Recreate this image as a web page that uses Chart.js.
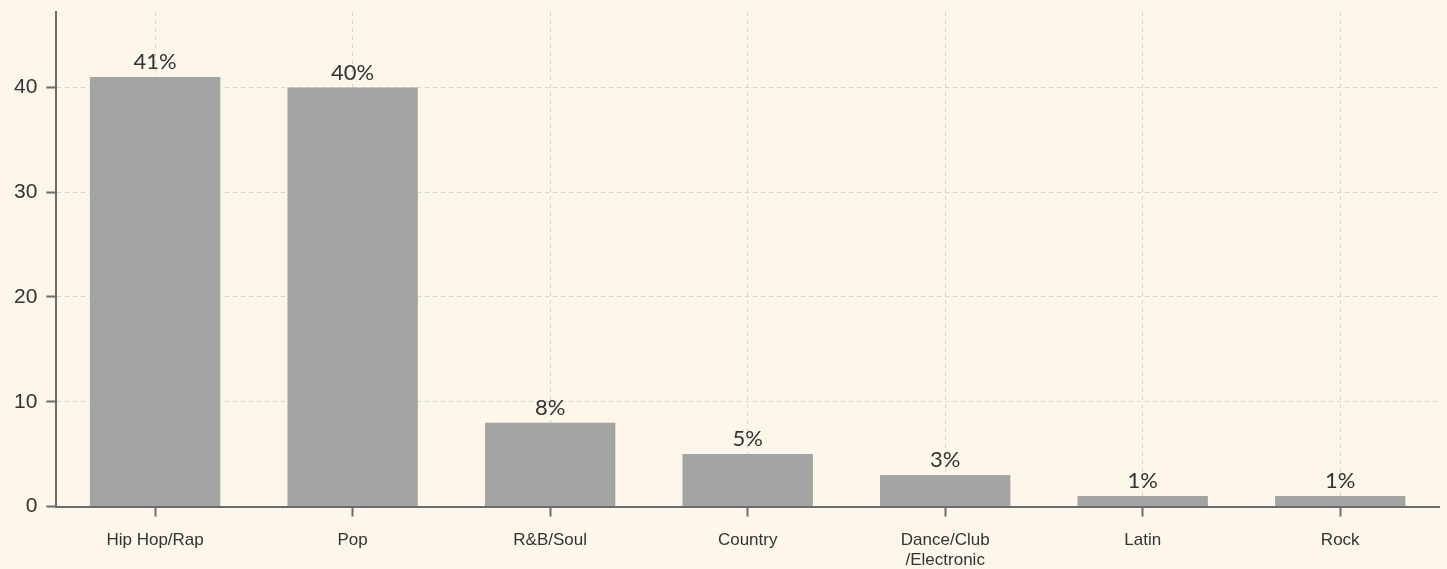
<!DOCTYPE html>
<html>
<head>
<meta charset="utf-8">
<script src="https://cdn.jsdelivr.net/npm/chart.js@4"></script>
<style>
  html, body { margin: 0; padding: 0; background: #fdf6eb; }
  #wrap { width: 1447px; height: 569px; }
</style>
</head>
<body>
<div id="wrap"><canvas id="genreChart"></canvas></div>
<script>
// genre share of top songs (percent)
const genres = ['Hip Hop/Rap', 'Pop', 'R&B/Soul', 'Country', ['Dance/Club', '/Electronic'], 'Latin', 'Rock'];
const shares = [41, 40, 8, 5, 3, 1, 1];
const yTicks = [0, 10, 20, 30, 40];

// draws "41%" etc. above each bar
const valueLabels = {
  id: 'valueLabels',
  afterDatasetsDraw(chart) {
    const ctx = chart.ctx;
    const meta = chart.getDatasetMeta(0);
    ctx.save();
    ctx.font = '22px Lato';
    ctx.fillStyle = '#333333';
    ctx.textAlign = 'center';
    ctx.textBaseline = 'bottom';
    meta.data.forEach((bar, i) => {
      ctx.fillText(shares[i] + '%', bar.x, bar.y - 4);
    });
    ctx.restore();
  }
};

new Chart(document.getElementById('genreChart').getContext('2d'), {
  type: 'bar',
  data: {
    labels: genres,
    datasets: [
      {
        data: shares,
        backgroundColor: '#a4a4a4',
        borderWidth: 0,
        barPercentage: 0.66,
        categoryPercentage: 1,
      },
    ],
  },
  options: {
    responsive: true,
    maintainAspectRatio: false,
    animation: false,
    layout: {
      padding: { top: 12, right: 8, left: 5, bottom: 0 },
    },
    plugins: {
      legend: { display: false },
      tooltip: { enabled: false },
    },
    scales: {
      x: {
        offset: true,
        afterFit(axis) {
          axis.height = 62.5;
          axis.paddingLeft = 0;
          axis.paddingRight = 0;
        },
        grid: {
          offset: false,
          color: '#d6d4cf',
          tickColor: '#6b6b6b',
          tickLength: 10,
          tickWidth: 2,
        },
        border: { color: '#6b6b6b', width: 2, dash: [4, 4] },
        ticks: {
          color: '#333333',
          padding: 14,
          maxRotation: 0,
          autoSkip: false,
          font: { family: 'Liberation Sans', size: 17, lineHeight: 1.15 },
        },
      },
      y: {
        min: 0,
        max: 47.2,
        afterBuildTicks(axis) {
          axis.ticks = yTicks.map((v) => ({ value: v }));
        },
        afterFit(axis) {
          axis.paddingTop = 0;
          axis.paddingBottom = 0;
        },
        grid: {
          color: '#d6d4cf',
          tickColor: '#6b6b6b',
          tickLength: 10,
          tickWidth: 2,
        },
        border: { color: '#6b6b6b', width: 2, dash: [4, 4] },
        ticks: {
          color: '#333333',
          padding: 9,
          font: { family: 'Liberation Sans', size: 21 },
        },
      },
    },
  },
  plugins: [valueLabels],
});
</script>
</body>
</html>
